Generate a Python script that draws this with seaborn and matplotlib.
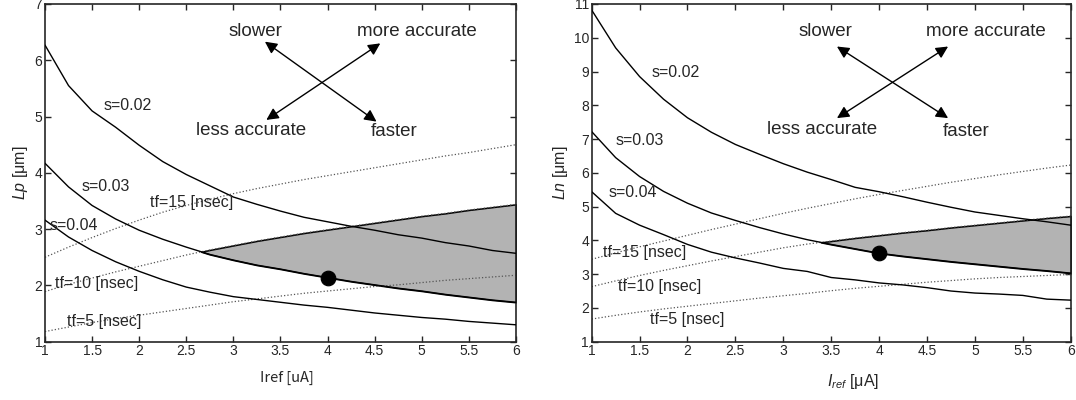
import numpy as np
import pandas as pd
import matplotlib
matplotlib.use("Agg")
import matplotlib.pyplot as plt
import seaborn as sns

# ── Data ──────────────────────────────────────────────────────────────────────
iref = [1.0, 1.25, 1.5, 1.75, 2.0, 2.25, 2.5, 2.75, 3.0, 3.25, 3.5,
        3.75, 4.0, 4.25, 4.5, 4.75, 5.0, 5.25, 5.5, 5.75, 6.0]

# Lp panel (left)
lp_s002 = [6.27, 5.55, 5.10, 4.81, 4.49, 4.20, 3.97, 3.77, 3.57, 3.44, 3.32,
           3.21, 3.13, 3.05, 2.98, 2.90, 2.84, 2.76, 2.70, 2.62, 2.57]
lp_s003 = [4.17, 3.75, 3.42, 3.18, 2.98, 2.82, 2.68, 2.55, 2.45, 2.36, 2.29,
           2.21, 2.14, 2.07, 2.01, 1.95, 1.90, 1.84, 1.79, 1.74, 1.70]
lp_s004 = [3.16, 2.86, 2.62, 2.42, 2.25, 2.10, 1.97, 1.88, 1.80, 1.75, 1.70,
           1.65, 1.61, 1.56, 1.51, 1.47, 1.43, 1.40, 1.36, 1.33, 1.30]
lp_tf5 = [1.18, 1.26, 1.34, 1.41, 1.47, 1.53, 1.59, 1.65, 1.71, 1.76, 1.81,
          1.86, 1.90, 1.94, 1.98, 2.01, 2.05, 2.09, 2.12, 2.15, 2.18]
lp_tf10 = [1.89, 2.02, 2.13, 2.24, 2.34, 2.44, 2.54, 2.63, 2.71, 2.79, 2.86,
           2.93, 2.99, 3.05, 3.11, 3.17, 3.23, 3.28, 3.34, 3.39, 3.44]
lp_tf15 = [2.50, 2.68, 2.85, 3.01, 3.16, 3.30, 3.42, 3.53, 3.63, 3.72, 3.80,
           3.88, 3.95, 4.02, 4.09, 4.16, 4.23, 4.30, 4.36, 4.43, 4.50]
lp_design = (4.0, 2.13)

# Ln panel (right)
ln_s002 = [10.82, 9.70, 8.85, 8.18, 7.63, 7.20, 6.84, 6.55, 6.27, 6.02, 5.80,
           5.57, 5.44, 5.29, 5.13, 4.98, 4.84, 4.74, 4.64, 4.55, 4.45]
ln_s003 = [7.22, 6.45, 5.89, 5.45, 5.10, 4.81, 4.59, 4.38, 4.19, 4.02, 3.88,
           3.75, 3.62, 3.53, 3.45, 3.37, 3.30, 3.23, 3.16, 3.10, 3.03]
ln_s004 = [5.44, 4.80, 4.45, 4.17, 3.88, 3.65, 3.48, 3.33, 3.17, 3.08, 2.90,
           2.83, 2.74, 2.68, 2.60, 2.50, 2.44, 2.41, 2.37, 2.26, 2.23]
ln_tf5 = [1.67, 1.78, 1.88, 1.97, 2.05, 2.13, 2.21, 2.29, 2.36, 2.43, 2.51,
          2.58, 2.64, 2.70, 2.76, 2.81, 2.86, 2.90, 2.93, 2.96, 2.99]
ln_tf10 = [2.63, 2.80, 2.96, 3.11, 3.25, 3.39, 3.52, 3.65, 3.78, 3.89, 3.98,
           4.07, 4.15, 4.23, 4.30, 4.38, 4.45, 4.52, 4.59, 4.66, 4.72]
ln_tf15 = [3.44, 3.63, 3.81, 3.98, 4.15, 4.32, 4.48, 4.64, 4.80, 4.95, 5.09,
           5.23, 5.36, 5.48, 5.60, 5.72, 5.83, 5.94, 6.04, 6.14, 6.23]
ln_design = (4.0, 3.62)

x_ticks = [1, 1.5, 2, 2.5, 3, 3.5, 4, 4.5, 5, 5.5, 6]
x_ticklabels = ['1', '1.5', '2', '2.5', '3', '3.5', '4', '4.5', '5', '5.5', '6']
s_labels = ['s=0.02', 's=0.03', 's=0.04']
tf_labels = ['tf=15 [nsec]', 'tf=10 [nsec]', 'tf=5 [nsec]']

# ── Style ─────────────────────────────────────────────────────────────────────
sns.set_style("ticks")
plt.rcParams['font.family'] = ['Liberation Sans', 'DejaVu Sans']
plt.rcParams['mathtext.fontset'] = 'custom'
plt.rcParams['mathtext.rm'] = 'Liberation Sans'
plt.rcParams['mathtext.it'] = 'Liberation Sans:italic'
plt.rcParams['xtick.direction'] = 'in'
plt.rcParams['ytick.direction'] = 'in'

SOLID = dict(color='black', lw=1.0)
DOTTED = dict(color='#555555', lw=0.9, linestyle=':')
GRAY = '#b3b3b3'


def draw_panel(ax, s_curves, tf_curves, design, ylim, s_pos, tf_pos,
               arrow_tips, arrow_txt):
    x = np.array(iref)
    upper = np.array(tf_curves[1])   # tf=10
    lower = np.array(s_curves[1])    # s=0.03
    ax.fill_between(x, lower, upper, where=upper >= lower, interpolate=True,
                    facecolor=GRAY, edgecolor='black', lw=1.1, zorder=1)
    for vals in tf_curves:
        sns.lineplot(x=iref, y=vals, ax=ax, zorder=2, **DOTTED)
    for vals in s_curves:
        sns.lineplot(x=iref, y=vals, ax=ax, zorder=3, **SOLID)
    sns.scatterplot(x=[design[0]], y=[design[1]], ax=ax, s=110,
                    color='black', edgecolor='black', zorder=5)

    for lab, (px, py) in zip(s_labels, s_pos):
        ax.text(px, py, lab, fontsize=11.5, ha='left', va='center', zorder=6)
    for lab, (px, py) in zip(tf_labels, tf_pos):
        ax.text(px, py, lab, fontsize=11.5, ha='left', va='center', zorder=6)

    # crossed double arrows
    (sl, fa, mo, le) = arrow_tips
    for a, b in [(sl, fa), (mo, le)]:
        ax.annotate('', xy=a, xytext=b,
                    arrowprops=dict(arrowstyle='<|-|>', color='black', lw=1.0,
                                    mutation_scale=18, shrinkA=0, shrinkB=0))
    for txt, (px, py) in arrow_txt:
        ax.text(px, py, txt, fontsize=13.5, ha='center', va='center')

    ax.set_xlim(1, 6)
    ax.set_ylim(*ylim)
    ax.set_xticks(x_ticks)
    ax.set_xticklabels(x_ticklabels)
    ax.set_yticks(range(ylim[0], ylim[1] + 1))
    ax.tick_params(axis='both', which='major', labelsize=10, length=4,
                   width=1.0, pad=2, top=True, right=True)
    for sp in ax.spines.values():
        sp.set_linewidth(1.2)
        sp.set_visible(True)


fig = plt.figure(figsize=(10.76, 4.0), dpi=100)
ax1 = fig.add_axes([0.0418, 0.1458, 0.4377, 0.8443])
ax2 = fig.add_axes([0.5499, 0.1458, 0.4452, 0.8443])

draw_panel(ax1, [lp_s002, lp_s003, lp_s004], [lp_tf15, lp_tf10, lp_tf5],
           lp_design, (1, 7),
           s_pos=[(1.62, 5.2), (1.39, 3.75), (1.05, 3.06)],
           tf_pos=[(2.11, 3.47), (1.11, 2.04), (1.23, 1.35)],
           arrow_tips=[(3.335, 6.33), (4.52, 4.91), (4.56, 6.30), (3.35, 4.94)],
           arrow_txt=[('slower', (3.23, 6.51)), ('more accurate', (4.95, 6.51)),
                      ('less accurate', (3.19, 4.76)), ('faster', (4.71, 4.73))])

draw_panel(ax2, [ln_s002, ln_s003, ln_s004], [ln_tf15, ln_tf10, ln_tf5],
           ln_design, (1, 11),
           s_pos=[(1.62, 8.97), (1.25, 6.95), (1.18, 5.41)],
           tf_pos=[(1.12, 3.63), (1.27, 2.62), (1.61, 1.65)],
           arrow_tips=[(3.56, 9.74), (4.72, 7.62), (4.72, 9.74), (3.56, 7.62)],
           arrow_txt=[('slower', (3.44, 10.18)), ('more accurate', (5.11, 10.18)),
                      ('less accurate', (3.40, 7.27)), ('faster', (4.91, 7.22))])

ax1.set_xlabel('Iref [uA]', fontsize=10.5, family=['Noto Sans CJK JP', 'DejaVu Sans'],
               va='center')
ax1.xaxis.set_label_coords(0.513, -0.107)
ax1.set_ylabel(r'$Lp$ [μm]', fontsize=11.5, va='center')
ax1.yaxis.set_label_coords(-0.053, 0.5)

ax2.set_xlabel(r'$I_{ref}$ [μA]', fontsize=11.5, va='center')
ax2.xaxis.set_label_coords(0.545, -0.119)
ax2.set_ylabel(r'$Ln$ [μm]', fontsize=11.5, va='center')
ax2.yaxis.set_label_coords(-0.066, 0.5)

fig.savefig('out.png', dpi=100)
